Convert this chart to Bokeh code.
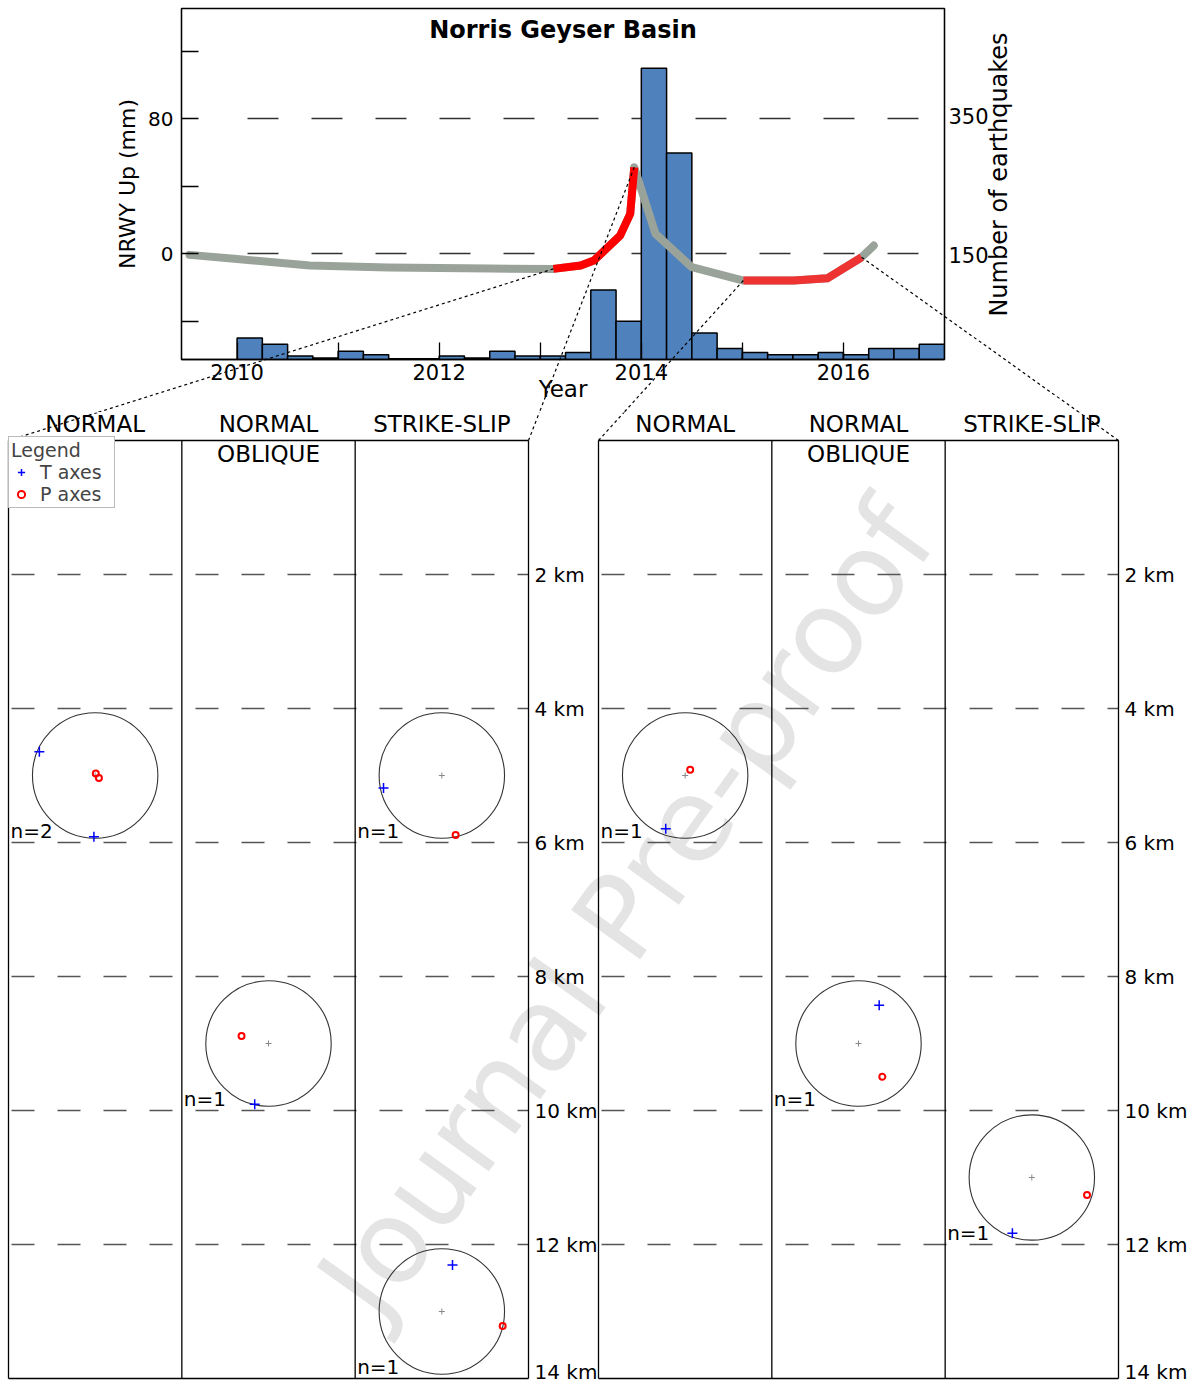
import math
from bokeh.plotting import figure
from bokeh.layouts import column
from bokeh.models import Range1d, LinearAxis, FixedTicker, Legend, LegendItem, Plot
from bokeh.core.properties import value
from bokeh.embed import file_html
from bokeh.resources import INLINE

FONT = "DejaVu Sans"

# ---------------- data: top panel ----------------
bin_start = [2010.00, 2010.25, 2010.50, 2010.75, 2011.00, 2011.25, 2011.50, 2011.75,
             2012.00, 2012.25, 2012.50, 2012.75, 2013.00, 2013.25, 2013.50, 2013.75,
             2014.00, 2014.25, 2014.50, 2014.75, 2015.00, 2015.25, 2015.50, 2015.75,
             2016.00, 2016.25, 2016.50, 2016.75]
quake_counts = [31, 22, 5, 2, 12, 7, 1, 1, 5, 2, 12, 5, 5, 10, 100, 55,
                419, 297, 38, 16, 10, 7, 7, 10, 7, 16, 16, 22]
BIN_WIDTH = 0.25

gps_year = [2009.53, 2010.00, 2010.72, 2011.50, 2012.50, 2013.13, 2013.40, 2013.53,
            2013.79, 2013.89, 2013.93, 2014.14, 2014.50, 2015.01, 2015.51, 2015.84,
            2016.18, 2016.30]
gps_up_mm = [-0.6, -3.1, -6.9, -8.1, -8.7, -8.9, -6.9, -4.0,
             10.8, 23.7, 51.3, 11.9, -7.9, -15.8, -15.8, -14.5,
             -2.0, 4.9]

uplift_start = [2013.13, 2015.01]
uplift_end = [2013.93, 2016.18]
uplift_color = ["#ff0000", "#ee3333"]

year_ticks = [2010, 2011, 2012, 2013, 2014, 2015, 2016]
year_labels = ["2010", "", "2012", "", "2014", "", "2016"]
mm_ticks = [-40, 0, 40, 80, 120]
mm_labels = ["", "0", "", "80", ""]
count_ticks = [150, 350]

# ---------------- data: focal mechanisms ----------------
class_title_1 = ["NORMAL", "NORMAL", "STRIKE-SLIP"]
class_title_2 = ["", "OBLIQUE", ""]
mech_episode = [0, 0, 0, 0, 1, 1, 1]
mech_class = [0, 1, 2, 2, 0, 1, 2]          # index into class titles
mech_depth_km = [5, 9, 5, 13, 5, 9, 11]
mech_count = [2, 1, 1, 1, 1, 1, 1]

t_mech = [0, 0, 1, 2, 3, 4, 5, 6]
t_u = [-0.89, -0.02, -0.22, -0.93, 0.17, -0.31, 0.33, -0.31]
t_v = [0.38, -0.975, -0.97, -0.20, 0.74, -0.85, 0.61, -0.89]
p_mech = [0, 0, 1, 2, 3, 4, 5, 6]
p_u = [0.01, 0.06, -0.43, 0.22, 0.97, 0.08, 0.38, 0.88]
p_v = [0.03, -0.04, 0.12, -0.95, -0.23, 0.09, -0.53, -0.28]

depth_ticks = [2, 4, 6, 8, 10, 12, 14]
DEPTH_MAX = 14

# ---------------- layout geometry (page pixels) ----------------
PAGE_W = 1194
TOP_H = 412
TOP_BL, TOP_BR, TOP_BT, TOP_BB = 181, 250, 8, 53
TFL, TFT = TOP_BL, TOP_BT
TFW, TFH = PAGE_W - TOP_BL - TOP_BR, TOP_H - TOP_BT - TOP_BB
X_RANGE = (2009.45, 2017.0)
MM_RANGE = (-62.6, 145.4)
COUNT_RANGE = (0, 505)

CAN_UNALIGN = "frame_align" in Plot.properties()

BOT_TOP = TOP_H
BOT_H = 1383 - BOT_TOP
BOT_BL, BOT_BR = (0, 0) if CAN_UNALIGN else (TOP_BL, TOP_BR)
PANEL_TOP = 440
KM_PX = 67.0
GROUP_LEFT_PX = [8, 598]
GROUP_W_PX = 520
W = GROUP_W_PX / KM_PX
R = 62.7 / KM_PX


def top_page(year, mm):
    px = TFL + (year - X_RANGE[0]) / (X_RANGE[1] - X_RANGE[0]) * TFW
    py = TFT + (MM_RANGE[1] - mm) / (MM_RANGE[1] - MM_RANGE[0]) * TFH
    return px, py


def top_data(px, py):
    year = X_RANGE[0] + (px - TFL) / TFW * (X_RANGE[1] - X_RANGE[0])
    mm = MM_RANGE[1] - (py - TFT) / TFH * (MM_RANGE[1] - MM_RANGE[0])
    return year, mm


def bot_data(px, py):
    return (px - GROUP_LEFT_PX[0]) / KM_PX, (py - PANEL_TOP) / KM_PX


def mm_at(year):
    return gps_up_mm[gps_year.index(year)]


# ================= top chart =================
top = figure(width=PAGE_W, height=TOP_H, x_range=Range1d(*X_RANGE), y_range=Range1d(*MM_RANGE),
             output_backend="svg", toolbar_location=None,
             min_border_left=TOP_BL, min_border_right=TOP_BR,
             min_border_top=TOP_BT, min_border_bottom=TOP_BB,
             outline_line_color="black", outline_line_width=1.3)
top.extra_y_ranges = {"count": Range1d(*COUNT_RANGE)}

xa = top.xaxis[0]
xa.ticker = FixedTicker(ticks=year_ticks, minor_ticks=[])
xa.major_label_overrides = {t: l for t, l in zip(year_ticks, year_labels)}
xa.axis_label = "Year"

ya = top.yaxis[0]
ya.ticker = FixedTicker(ticks=mm_ticks, minor_ticks=[])
ya.major_label_overrides = {t: l for t, l in zip(mm_ticks, mm_labels)}
ya.axis_label = "NRWY Up (mm)"

ra = LinearAxis(y_range_name="count", ticker=FixedTicker(ticks=count_ticks, minor_ticks=[]))
top.add_layout(ra, "right")

for ax, lab_size, tick_size in ((xa, "23px", "21px"), (ya, "22px", "20px"), (ra, "24px", "21px")):
    ax.axis_line_color = "black"
    ax.axis_line_width = 1.3
    ax.major_tick_in = 17
    ax.major_tick_out = 0
    ax.major_tick_line_color = "black"
    ax.major_tick_line_width = 1.3
    ax.minor_tick_line_color = None
    ax.major_label_text_font = FONT
    ax.major_label_text_font_size = tick_size
    ax.major_label_text_color = "black"
    ax.axis_label_text_font = FONT
    ax.axis_label_text_font_size = lab_size
    ax.axis_label_text_font_style = "normal"
    ax.axis_label_text_color = "black"
ra.major_tick_in = 0
ra.major_label_standoff = 4
ya.major_label_standoff = 8
xa.major_label_standoff = 4
xa.axis_label_standoff = -7
ya.axis_label_standoff = 5

top.xgrid.visible = False
top.ygrid.ticker = FixedTicker(ticks=[0, 80], minor_ticks=[])
top.ygrid.grid_line_color = "#333333"
top.ygrid.grid_line_width = 1.3
top.ygrid.grid_line_dash = "0 66 " + " ".join(["31 33"] * 11)

top.quad(left=bin_start, right=[b + BIN_WIDTH for b in bin_start], bottom=0, top=quake_counts,
         y_range_name="count", fill_color="#4f81bd", line_color="black", line_width=1.5)

top.line(gps_year, gps_up_mm, line_color="#9aa39a", line_width=8, line_cap="round", line_join="round")
for s, e, c in zip(uplift_start, uplift_end, uplift_color):
    xs = [y for y in gps_year if s <= y <= e]
    ys = [m for y, m in zip(gps_year, gps_up_mm) if s <= y <= e]
    top.line(xs, ys, line_color=c, line_width=8, line_cap="butt", line_join="round")

top.text(x=[(X_RANGE[0] + X_RANGE[1]) / 2], y=[top_data(0, 29)[1]], text=["Norris Geyser Basin"],
         text_font=value(FONT), text_font_size="24px", text_font_style="bold",
         text_align="center", text_baseline="middle", text_color="black")

# right-axis title, reading bottom to top
rx, ry = top_data(998, 174)
top.text(x=[rx], y=[ry], text=["Number of earthquakes"], angle=math.pi / 2,
         text_font=value(FONT), text_font_size="24px", text_align="center",
         text_baseline="middle", text_color="black", level="overlay")

# connectors (top part)
conn = []   # (corner_px, year, mm)
for g in range(2):
    conn.append((GROUP_LEFT_PX[g], uplift_start[g], mm_at(uplift_start[g])))
    conn.append((GROUP_LEFT_PX[g] + GROUP_W_PX, uplift_end[g], mm_at(uplift_end[g])))
cx1, cy1 = zip(*[top_data(c[0], PANEL_TOP) for c in conn])
top.segment(x0=[c[1] for c in conn], y0=[c[2] for c in conn], x1=list(cx1), y1=list(cy1),
            line_color="black", line_width=1.2, line_dash="3 3", level="overlay")

# ================= focal-mechanism panels =================
d_top = (BOT_TOP - PANEL_TOP) / KM_PX
d_bot = (BOT_TOP + BOT_H - PANEL_TOP) / KM_PX
x_lo = (BOT_BL - GROUP_LEFT_PX[0]) / KM_PX
x_hi = (PAGE_W - BOT_BR - GROUP_LEFT_PX[0]) / KM_PX
bot = figure(width=PAGE_W, height=BOT_H, x_range=Range1d(x_lo, x_hi), y_range=Range1d(d_bot, d_top),
             output_backend="svg", toolbar_location=None,
             min_border_left=BOT_BL, min_border_right=BOT_BR, min_border_top=0, min_border_bottom=0,
             x_axis_location=None, y_axis_location=None, outline_line_color=None)
if CAN_UNALIGN:
    top.frame_align = False
    bot.frame_align = False
bot.xgrid.visible = False
bot.ygrid.visible = False
LV = "glyph" if CAN_UNALIGN else "overlay"
OV = dict(level=LV)
TXT = dict(text_font=value(FONT), text_color="black", level=LV)

# watermark (first, so everything else is drawn over it)
wx, wy = bot_data(626, 908)
bot.text(x=[wx], y=[wy], text=["Journal Pre-proof"], angle=0.951, text_align="center",
         text_baseline="middle", text_font=value(FONT), text_font_size="116px",
         text_color="#e4e4e4", level="underlay" if CAN_UNALIGN else "overlay")

t_rend = p_rend = None
grid_depths = depth_ticks[:-1]
for g in range(2):
    gx = bot_data(GROUP_LEFT_PX[g], 0)[0]
    # dashed depth lines
    bot.segment(x0=[gx] * len(grid_depths), y0=grid_depths, x1=[gx + W] * len(grid_depths),
                y1=grid_depths, line_color="#555555", line_width=1.3,
                line_dash="0 3 " + " ".join(["23 23"] * 12), **OV)
    cols = [gx, gx + W / 3, gx + 2 * W / 3, gx + W]
    bot.segment(x0=cols + [gx, gx], y0=[0] * 4 + [0, DEPTH_MAX], x1=cols + [gx + W, gx + W],
                y1=[DEPTH_MAX] * 4 + [0, DEPTH_MAX], line_color="black", line_width=1.3, **OV)
    centers = [gx + (k + 0.5) * W / 3 for k in range(3)]
    bot.text(x=centers, y=[(423 - PANEL_TOP) / KM_PX] * 3, text=class_title_1, text_align="center",
             text_baseline="middle", text_font_size="23px", **TXT)
    bot.text(x=centers, y=[(453 - PANEL_TOP) / KM_PX] * 3, text=class_title_2, text_align="center",
             text_baseline="middle", text_font_size="23px", **TXT)
    # depth tick labels
    lab_x = gx + W + 6 / KM_PX
    lab_y = [d if d < DEPTH_MAX else d - 0.1 for d in depth_ticks]
    bot.text(x=[lab_x] * len(depth_ticks), y=lab_y, text=[f"{d} km" for d in depth_ticks],
             text_align="left", text_baseline="middle", text_font_size="20px", **TXT)

    idx = [i for i, e in enumerate(mech_episode) if e == g]
    mx = {i: centers[mech_class[i]] for i in idx}
    my = {i: mech_depth_km[i] for i in idx}
    bot.circle(x=[mx[i] for i in idx], y=[my[i] for i in idx], radius=R, fill_color=None,
               line_color="#333333", line_width=1.1, **OV)
    bot.scatter(x=[mx[i] for i in idx], y=[my[i] for i in idx], marker="cross", size=6,
                line_color="#888888", line_width=1, **OV)
    bot.text(x=[mx[i] - W / 6 + 2 / KM_PX for i in idx], y=[my[i] + 0.83 for i in idx],
             text=[f"n={mech_count[i]}" for i in idx], text_align="left", text_baseline="middle",
             text_font_size="20px", **TXT)

    tx = [mx[m] + u * R for m, u in zip(t_mech, t_u) if m in mx]
    ty = [my[m] - v * R for m, v in zip(t_mech, t_v) if m in my]
    tr = bot.scatter(x=tx, y=ty, marker="cross", size=10, line_color="blue", line_width=1.5, **OV)
    px_ = [mx[m] + u * R for m, u in zip(p_mech, p_u) if m in mx]
    py_ = [my[m] - v * R for m, v in zip(p_mech, p_v) if m in my]
    pr = bot.scatter(x=px_, y=py_, marker="circle", size=6, fill_color=None, line_color="red",
                     line_width=2, **OV)
    if g == 0:
        t_rend, p_rend = tr, pr

# connectors (bottom part)
x0, y0, x1, y1 = [], [], [], []
for c in conn:
    bx, by = bot_data(*top_page(c[1], c[2]))
    cx, cy = bot_data(c[0], PANEL_TOP)
    x0.append(cx); y0.append(cy); x1.append(bx); y1.append(by)
bot.segment(x0=x0, y0=y0, x1=x1, y1=y1, line_color="black", line_width=1.2, line_dash="3 3", **OV)

LEG_H = 68
leg = Legend(items=[LegendItem(label="T axes", renderers=[t_rend]),
                    LegendItem(label="P axes", renderers=[p_rend])],
             title="Legend", location=(GROUP_LEFT_PX[0] - BOT_BL, BOT_TOP + BOT_H - PANEL_TOP - LEG_H),
             title_text_font=FONT, title_text_font_size="19px", title_text_font_style="normal",
             label_text_font=FONT, label_text_font_size="19px",
             padding=2, spacing=-1, margin=0, label_standoff=9, glyph_width=20,
             glyph_height=18, label_height=18, label_width=72, title_standoff=0,
             border_line_color="#777777", border_line_width=1, background_fill_alpha=1)
bot.add_layout(leg, "center")

layout = column(top, bot, spacing=0)
open("out.html", "w").write(file_html(layout, INLINE))
